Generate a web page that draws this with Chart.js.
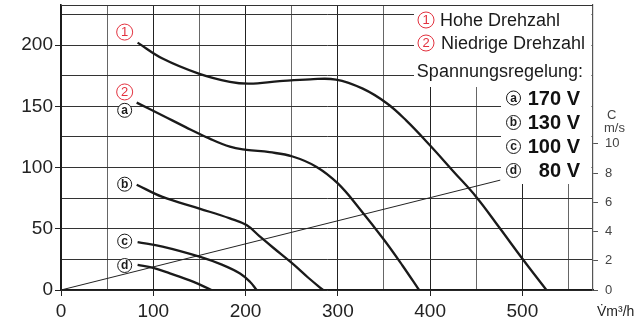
<!DOCTYPE html>
<html>
<head>
<meta charset="utf-8">
<script src="https://cdn.jsdelivr.net/npm/chart.js@4"></script>
<style>
  html, body { margin: 0; padding: 0; background: #fff; }
  #wrap { width: 640px; height: 322px; position: relative; }
</style>
</head>
<body>
<div id="wrap"><canvas id="c" width="640" height="322"></canvas></div>
<script>
// ---- data (volume flow m³/h vs. pressure Pa) ----
const xHigh = [83, 110, 150, 183, 204, 237, 270, 298, 327, 353, 374, 400, 425, 450, 475, 500, 526];
const yHigh = [202, 189, 176.5, 170, 168.5, 170.5, 172, 171.8, 164.4, 152.5, 138.5, 118, 97, 76, 51, 25.5, 0];

const xA = [82, 110, 135, 160, 183, 201, 226, 251, 277, 300, 324, 350, 370, 388];
const yA = [153, 142.5, 133, 124, 117, 114.5, 112.5, 109, 100.5, 87, 66, 41, 20, 0];

const xB = [82, 110, 150, 183, 201, 215, 230, 251, 268, 284];
const yB = [86, 76, 66.5, 58.5, 53, 44, 34.5, 21.5, 10, 0];

const xC = [83, 110, 150, 175, 194, 205, 212];
const yC = [39, 35.4, 27.2, 20.5, 13.5, 6.5, 0];

const xD = [83, 100, 118, 143, 163];
const yD = [20.5, 18, 13.6, 6.8, 0];

const xSys = [0, 476];
const ySys = [0, 89.7];

const legendSpeeds = ['Hohe Drehzahl', 'Niedrige Drehzahl'];
const legendTitle = 'Spannungsregelung:';
const voltLetters = ['a', 'b', 'c', 'd'];
const voltLabels = ['170 V', '130 V', '100 V', '80 V'];

const FONT = "'Liberation Sans', Arial, Helvetica, sans-serif";
const RED = '#e2323f';

function pts(xs, ys) { return xs.map((x, i) => ({ x: x, y: ys[i] })); }

function curve(xs, ys) {
  return {
    data: pts(xs, ys),
    borderColor: '#1a1a1a',
    borderWidth: 2.3,
    pointRadius: 0,
    tension: 0.4,
    fill: false
  };
}

function circled(ctx, cx, cy, r, color, txt, font, lw) {
  ctx.save();
  ctx.beginPath();
  ctx.arc(cx, cy, r, 0, Math.PI * 2);
  ctx.fillStyle = '#fff';
  ctx.fill();
  ctx.lineWidth = lw || 1;
  ctx.strokeStyle = color;
  ctx.stroke();
  ctx.fillStyle = color;
  ctx.font = font;
  ctx.textAlign = 'center';
  ctx.textBaseline = 'middle';
  ctx.fillText(txt, cx, cy + 0.5);
  ctx.restore();
}

function noPad(s) {
  s.paddingTop = 0; s.paddingBottom = 0; s.paddingLeft = 0; s.paddingRight = 0;
}

const deco = {
  id: 'deco',
  beforeDatasetsDraw(chart) {
    const ctx = chart.ctx, a = chart.chartArea;
    ctx.save();
    ctx.fillStyle = '#fff';
    ctx.fillRect(414, a.top + 1, 591.5 - 414, 87 - a.top - 1);
    ctx.fillRect(501, 87, 591.5 - 501, 184 - 87);
    ctx.strokeStyle = '#333';
    ctx.lineWidth = 1;
    ctx.beginPath();
    ctx.moveTo(a.left, a.top + 0.5);
    ctx.lineTo(a.right, a.top + 0.5);
    ctx.stroke();
    ctx.restore();
  },
  afterDatasetsDraw(chart) {
    const ctx = chart.ctx;
    const xs = chart.scales.x, ys = chart.scales.y;
    ctx.save();
    ctx.textBaseline = 'middle';
    ctx.font = '18px ' + FONT;
    circled(ctx, 426, 20, 8, RED, '1', '13px ' + FONT, 1);
    circled(ctx, 426, 43, 8, RED, '2', '13px ' + FONT, 1);
    ctx.fillStyle = '#1a1a1a';
    ctx.textAlign = 'left';
    ctx.fillText(legendSpeeds[0], 440, 21);
    ctx.fillText(legendSpeeds[1], 441, 44);
    ctx.textAlign = 'right';
    ctx.fillText(legendTitle, 583, 72);
    const vy = [98, 122.5, 146.5, 170.5];
    for (let i = 0; i < 4; i++) {
      circled(ctx, 513.5, vy[i], 7, '#1a1a1a', voltLetters[i], 'bold 12px ' + FONT, 1);
      ctx.fillStyle = '#111';
      ctx.font = 'bold 20px ' + FONT;
      ctx.textAlign = 'right';
      ctx.fillText(voltLabels[i], 580, vy[i] + 1);
    }
    const lx = xs.getPixelForValue(69);
    circled(ctx, lx, ys.getPixelForValue(210.6), 8, RED, '1', '13px ' + FONT, 1);
    circled(ctx, lx, ys.getPixelForValue(161.7), 8, RED, '2', '13px ' + FONT, 1);
    const curveLabelY = [146.7, 86.4, 39.9, 20];
    for (let i = 0; i < 4; i++) {
      circled(ctx, lx, ys.getPixelForValue(curveLabelY[i]), 7, '#1a1a1a', voltLetters[i], 'bold 12px ' + FONT, 1);
    }
    ctx.fillStyle = '#444';
    ctx.font = '13px ' + FONT;
    ctx.textAlign = 'left';
    ctx.fillText('C', 607, 115);
    ctx.fillText('m/s', 604, 128);
    ctx.fillStyle = '#222';
    ctx.font = '14px ' + FONT;
    ctx.fillText('V\u0307m\u00B3/h', 597, 312);
    ctx.restore();
  }
};

new Chart(document.getElementById('c'), {
  type: 'line',
  data: {
    datasets: [
      curve(xHigh, yHigh),
      curve(xA, yA),
      curve(xB, yB),
      curve(xC, yC),
      curve(xD, yD),
      {
        data: pts(xSys, ySys),
        borderColor: '#222',
        borderWidth: 1,
        pointRadius: 0,
        tension: 0,
        fill: false
      }
    ]
  },
  plugins: [deco],
  options: {
    responsive: false,
    animation: false,
    events: [],
    layout: { padding: { top: 5, left: 0, right: 0, bottom: 0 } },
    plugins: { legend: { display: false }, tooltip: { enabled: false } },
    scales: {
      x: {
        type: 'linear',
        min: 0,
        max: 576.5,
        afterFit(s) { s.height = 32; noPad(s); },
        ticks: {
          stepSize: 50,
          includeBounds: false,
          autoSkip: false,
          maxRotation: 0,
          padding: 4,
          color: '#222',
          font: { family: FONT, size: 19 },
          callback: v => (v % 100 === 0 ? v : '')
        },
        grid: {
          color: c => (c.tick && c.tick.value % 100 === 0 ? '#222' : '#666'),
          lineWidth: 1,
          tickLength: 6,
          tickColor: c => (c.tick && c.tick.value % 100 === 0 ? '#222' : 'rgba(0,0,0,0)')
        },
        border: { color: '#1a1a1a', width: 1.6 }
      },
      y: {
        position: 'left',
        min: 0,
        max: 232.7,
        afterFit(s) { s.width = 61; noPad(s); },
        ticks: {
          stepSize: 25,
          includeBounds: false,
          autoSkip: false,
          padding: 2,
          color: '#222',
          font: { family: FONT, size: 19 },
          callback: v => (v % 50 === 0 ? v : '')
        },
        grid: {
          color: '#333',
          lineWidth: 1,
          tickLength: 6,
          tickColor: c => (c.tick && c.tick.value % 50 === 0 ? '#222' : 'rgba(0,0,0,0)')
        },
        border: { color: '#1a1a1a', width: 1.6 }
      },
      y2: {
        position: 'right',
        min: 0,
        max: 19.5,
        afterFit(s) { s.width = 47; noPad(s); },
        ticks: {
          stepSize: 2,
          includeBounds: false,
          autoSkip: false,
          padding: 7,
          color: '#444',
          font: { family: FONT, size: 13 },
          callback: v => (v <= 10 ? v : '')
        },
        grid: {
          drawOnChartArea: false,
          tickLength: 5,
          tickColor: c => (c.tick && c.tick.value <= 10 ? '#555' : 'rgba(0,0,0,0)')
        },
        border: { color: '#555', width: 1.2 }
      }
    }
  }
});
</script>
</body>
</html>
